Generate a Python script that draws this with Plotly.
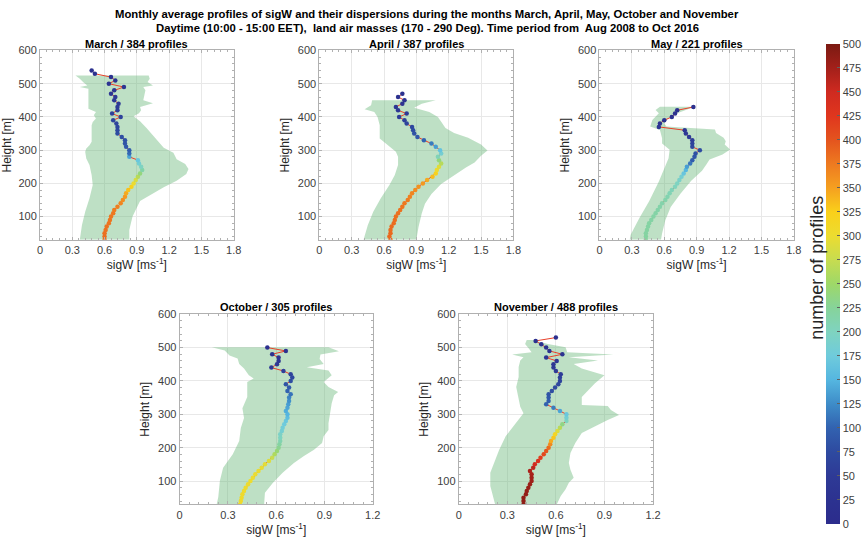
import plotly.graph_objects as go

# ---------------- DATA ----------------
# March
mar_h = list(range(30, 550, 10))
mar_sig = [0.60, 0.60, 0.60, 0.61, 0.62, 0.64, 0.65, 0.66, 0.68, 0.69, 0.72, 0.75, 0.77, 0.79, 0.80,
           0.82, 0.85, 0.87, 0.89, 0.91, 0.93, 0.95, 0.94, 0.92, 0.91, 0.83, 0.83, 0.83, 0.80, 0.79,
           0.79, 0.76, 0.72, 0.72, 0.72, 0.71, 0.68, 0.75, 0.67, 0.72, 0.72, 0.73, 0.69, 0.70, 0.66,
           0.69, 0.78, 0.64, 0.70, 0.66, 0.51, 0.48]
mar_n = [384, 383, 382, 381, 380, 379, 378, 377, 376, 374, 372, 368, 362, 355, 345,
         333, 320, 300, 285, 265, 240, 215, 200, 185, 170, 140, 105, 95, 90, 86,
         83, 80, 77, 74, 71, 68, 65, 62, 59, 56, 53, 50, 47, 44, 41,
         38, 35, 32, 29, 26, 23, 20]
mar_lo_h = [30, 75, 115, 155, 195, 225, 255, 275, 295, 305, 315, 325, 375, 385, 395, 405, 415, 425,
            445, 465, 485, 490, 495, 505, 515, 525]
mar_lo = [0.37, 0.39, 0.42, 0.46, 0.49, 0.48, 0.46, 0.43, 0.42, 0.43, 0.46, 0.48, 0.48, 0.49, 0.52,
          0.50, 0.52, 0.45, 0.45, 0.45, 0.45, 0.37, 0.44, 0.40, 0.37, 0.33]
mar_hi_h = [30, 60, 100, 147, 168, 188, 208, 228, 243, 258, 273, 292, 307, 337, 367, 387, 402, 411,
            420, 430, 441, 450, 465, 480, 490, 495, 505, 515, 525]
mar_hi = [0.83, 0.83, 0.86, 0.93, 1.04, 1.15, 1.27, 1.36, 1.38, 1.35, 1.27, 1.24, 1.15, 1.07, 0.99,
          0.93, 0.87, 0.92, 0.94, 0.93, 1.05, 0.96, 0.97, 0.98, 0.96, 1.05, 1.00, 1.02, 1.01]

# April
apr_h = list(range(30, 480, 10))
apr_sig = [0.66, 0.65, 0.66, 0.66, 0.67, 0.69, 0.70, 0.71, 0.73, 0.75, 0.77, 0.79, 0.82, 0.84, 0.86,
           0.89, 0.92, 0.96, 1.00, 1.05, 1.08, 1.09, 1.11, 1.13, 1.11, 1.10, 1.13, 1.12, 1.08, 1.04,
           0.97, 0.91, 0.88, 0.87, 0.86, 0.81, 0.79, 0.74, 0.81, 0.73, 0.71, 0.77, 0.79, 0.73, 0.77]
apr_n = [387, 386, 386, 385, 385, 384, 383, 382, 381, 380, 378, 376, 374, 371, 368,
         364, 360, 355, 345, 335, 320, 305, 290, 265, 240, 205, 185, 165, 135, 115,
         100, 90, 84, 78, 72, 66, 60, 54, 48, 42, 37, 32, 28, 24, 20]
apr_lo_h = [30, 75, 115, 155, 195, 225, 255, 280, 295, 315, 335, 375, 400, 415, 423, 435, 450]
apr_lo = [0.41, 0.45, 0.50, 0.57, 0.65, 0.70, 0.73, 0.73, 0.71, 0.64, 0.56, 0.56, 0.54, 0.51, 0.42,
          0.48, 0.49]
apr_hi_h = [30, 69, 109, 139, 168, 198, 223, 248, 263, 283, 299, 317, 337, 352, 367, 387, 400, 415,
            428, 440, 450]
apr_hi = [0.90, 0.92, 0.95, 0.98, 1.04, 1.13, 1.25, 1.36, 1.44, 1.50, 1.56, 1.50, 1.38, 1.25, 1.17,
          1.13, 1.10, 1.02, 0.88, 0.95, 1.08]

# May
may_h = list(range(30, 440, 10))
may_sig = [0.43, 0.43, 0.43, 0.44, 0.45, 0.46, 0.48, 0.50, 0.52, 0.54, 0.56, 0.58, 0.61, 0.63, 0.65,
           0.67, 0.70, 0.72, 0.74, 0.76, 0.78, 0.80, 0.81, 0.84, 0.86, 0.88, 0.89, 0.93, 0.86, 0.86,
           0.86, 0.83, 0.80, 0.79, 0.55, 0.56, 0.60, 0.67, 0.70, 0.72, 0.87]
may_n = [221, 221, 220, 220, 219, 219, 218, 218, 217, 216, 215, 214, 213, 211, 208,
         205, 202, 199, 192, 184, 168, 152, 136, 112, 95, 88, 82, 76, 70, 64,
         58, 52, 47, 42, 37, 32, 28, 24, 20, 17, 15]
may_lo_h = [30, 46, 96, 146, 206, 251, 276, 301, 320, 336, 361, 371, 391, 411, 421, 431]
may_lo = [0.28, 0.29, 0.37, 0.46, 0.55, 0.61, 0.64, 0.65, 0.58, 0.58, 0.56, 0.47, 0.49, 0.55, 0.52,
          0.56]
may_hi_h = [30, 49, 89, 129, 169, 208, 238, 257, 272, 287, 302, 317, 327, 337, 352, 362, 371, 381,
            391, 401, 411, 421, 431]
may_hi = [0.57, 0.58, 0.61, 0.66, 0.75, 0.85, 0.95, 0.99, 1.02, 1.14, 1.21, 1.16, 1.17, 1.15, 1.08,
          1.07, 0.62, 0.60, 0.62, 0.66, 0.72, 0.80, 0.88]

# October
oct_h = list(range(30, 510, 10))
oct_sig = [0.375, 0.38, 0.385, 0.39, 0.40, 0.41, 0.425, 0.44, 0.455, 0.47, 0.49, 0.51, 0.53, 0.555,
           0.575, 0.59, 0.605, 0.615, 0.62, 0.625, 0.625, 0.625, 0.635, 0.64, 0.65, 0.66, 0.67, 0.67,
           0.66, 0.67, 0.675, 0.68, 0.68, 0.69, 0.67, 0.68, 0.66, 0.69, 0.70, 0.69, 0.645, 0.57,
           0.605, 0.615, 0.615, 0.575, 0.66, 0.545]
oct_n = [305, 305, 304, 304, 303, 303, 302, 301, 300, 299, 298, 296, 294, 290, 275,
         260, 245, 230, 220, 210, 200, 195, 185, 180, 175, 170, 160, 150, 145, 140,
         135, 128, 120, 110, 100, 92, 85, 78, 71, 64, 57, 50, 44, 38, 32, 27, 23, 20]
oct_lo_h = [30, 52, 101, 140, 180, 220, 259, 289, 318, 352, 397, 407, 417, 437, 451, 467, 476, 491,
            501]
oct_lo = [0.23, 0.24, 0.25, 0.27, 0.33, 0.37, 0.38, 0.40, 0.39, 0.42, 0.42, 0.46, 0.43, 0.40, 0.37,
          0.36, 0.31, 0.28, 0.20]
oct_hi_h = [30, 65, 95, 125, 154, 174, 194, 214, 234, 253, 273, 303, 333, 357, 367, 382, 397, 417,
            431, 441, 451, 466, 479, 489, 501]
oct_hi = [0.525, 0.53, 0.58, 0.64, 0.71, 0.77, 0.835, 0.885, 0.895, 0.925, 0.925, 0.935, 0.945,
          0.96, 0.985, 0.925, 0.895, 0.945, 0.925, 0.79, 0.895, 0.87, 0.875, 0.99, 0.925]

# November
nov_h = list(range(30, 540, 10))
nov_sig = [0.40, 0.40, 0.40, 0.415, 0.42, 0.43, 0.44, 0.45, 0.45, 0.45, 0.44, 0.46, 0.47, 0.49,
           0.505, 0.525, 0.54, 0.555, 0.565, 0.57, 0.585, 0.595, 0.61, 0.625, 0.64, 0.665, 0.665,
           0.665, 0.625, 0.585, 0.54, 0.555, 0.555, 0.555, 0.575, 0.595, 0.615, 0.625, 0.625, 0.63,
           0.60, 0.585, 0.585, 0.605, 0.54, 0.64, 0.56, 0.54, 0.51, 0.475, 0.60]
nov_n = [488, 487, 486, 485, 484, 482, 480, 478, 476, 473, 470, 460, 445, 435, 420,
         410, 400, 385, 365, 345, 330, 315, 290, 265, 235, 200, 185, 170, 140, 115,
         100, 95, 90, 85, 80, 75, 70, 65, 60, 55, 50, 46, 42, 38, 34, 30, 26, 23, 20, 17, 15]
nov_lo_h = [30, 55, 85, 125, 154, 194, 234, 273, 303, 323, 352, 382, 412, 442, 461, 471, 479, 486,
            496, 511, 523]
nov_lo = [0.225, 0.21, 0.195, 0.195, 0.22, 0.25, 0.29, 0.35, 0.40, 0.38, 0.37, 0.355, 0.37, 0.37,
          0.38, 0.40, 0.33, 0.45, 0.435, 0.41, 0.42]
nov_hi_h = [30, 55, 75, 95, 110, 134, 154, 184, 214, 244, 263, 283, 298, 313, 325, 328, 352, 372,
            392, 417, 437, 451, 461, 471, 479, 486, 501, 511, 523]
nov_hi = [0.605, 0.63, 0.66, 0.68, 0.71, 0.69, 0.68, 0.69, 0.72, 0.76, 0.84, 0.92, 0.99, 0.94, 0.92,
          0.76, 0.76, 0.80, 0.84, 0.90, 0.76, 0.71, 0.86, 0.68, 0.955, 0.67, 0.66, 0.55, 0.46]

titles = ["March / 384 profiles", "April / 387 profiles", "May / 221 profiles",
          "October / 305 profiles", "November / 488 profiles"]
main_title = ["Monthly average profiles of sigW and their dispersions during the months March, April, May, October and November",
              "Daytime (10:00 - 15:00 EET),  land air masses (170 - 290 Deg). Time period from  Aug 2008 to Oct 2016"]
cbar_ticks = list(range(0, 525, 25))

# ---------------- FIGURE ----------------
W, H = 865, 538
panels = [
    (mar_h, mar_sig, mar_n, mar_lo_h, mar_lo, mar_hi_h, mar_hi, 1.8, (37.7, 235.0), (45.0, 236.5)),
    (apr_h, apr_sig, apr_n, apr_lo_h, apr_lo, apr_hi_h, apr_hi, 1.8, (322.3, 520.0), (45.0, 236.5)),
    (may_h, may_sig, may_n, may_lo_h, may_lo, may_hi_h, may_hi, 1.8, (607.7, 805.7), (45.0, 236.5)),
    (oct_h, oct_sig, oct_n, oct_lo_h, oct_lo, oct_hi_h, oct_hi, 1.2, (180.0, 376.7), (311.7, 504.0)),
    (nov_h, nov_sig, nov_n, nov_lo_h, nov_lo, nov_hi_h, nov_hi, 1.2, (464.3, 662.3), (311.7, 504.0)),
]

colorscale = [
    [0.00, "#2c2c8c"], [0.05, "#2c3290"], [0.10, "#2e3a96"], [0.15, "#2e4aa0"],
    [0.20, "#3262b0"], [0.25, "#3e8cc8"], [0.30, "#55b6e0"], [0.35, "#6fcbdc"],
    [0.40, "#7fd3c0"], [0.45, "#86d39a"], [0.50, "#9ed868"], [0.55, "#c7dc50"],
    [0.60, "#ecdc30"], [0.65, "#fad01a"], [0.70, "#f5a020"], [0.75, "#ee7a20"],
    [0.80, "#e4541e"], [0.85, "#e0361e"], [0.90, "#cf2a20"], [0.95, "#a3201a"],
    [1.00, "#7b1a12"],
]

fig = go.Figure()
layout_axes = {}
annotations = []
font_fam = "Arial, Liberation Sans, sans-serif"
for i, (h, sig, n, lo_h, lo, hi_h, hi, xmax, dx, dy) in enumerate(panels):
    sfx = "" if i == 0 else str(i + 1)
    xa, ya = "x" + sfx, "y" + sfx
    band_x = lo + hi[::-1]
    band_y = lo_h + hi_h[::-1]
    fig.add_trace(go.Scatter(x=band_x, y=band_y, mode="lines", fill="toself",
                             fillcolor="rgba(111,186,126,0.45)", line=dict(width=0),
                             hoverinfo="skip", showlegend=False, xaxis=xa, yaxis=ya))
    fig.add_trace(go.Scatter(x=sig, y=h, mode="lines+markers",
                             line=dict(color="#e8402a", width=1),
                             marker=dict(color=n, coloraxis="coloraxis", size=4.5, line=dict(width=0)),
                             showlegend=False, xaxis=xa, yaxis=ya))
    common = dict(showline=True, linecolor="#b0b0b0", linewidth=1, mirror="allticks",
                  ticks="inside", ticklen=3, tickcolor="#b0b0b0", showgrid=True,
                  gridcolor="#e8e8e8", zeroline=False,
                  tickfont=dict(family=font_fam, size=11, color="#404040"))
    layout_axes["xaxis" + sfx] = dict(common, domain=[dx[0] / W, dx[1] / W], anchor=ya,
                                      range=[0, xmax], tick0=0, dtick=0.3,
                                      minor=dict(ticks="inside", ticklen=2, tickcolor="#b0b0b0",
                                                 dtick=0.06, showgrid=False),
                                      title=dict(text="sigW [ms<sup>-1</sup>]", standoff=3,
                                                 font=dict(family=font_fam, size=12, color="#262626")))
    layout_axes["yaxis" + sfx] = dict(common, domain=[1 - dy[1] / H, 1 - dy[0] / H], anchor=xa,
                                      range=[30, 600], tick0=0, dtick=100,
                                      minor=dict(ticks="inside", ticklen=2, tickcolor="#b0b0b0",
                                                 dtick=20, showgrid=False),
                                      title=dict(text="Height [m]", standoff=5,
                                                 font=dict(family=font_fam, size=12, color="#262626")))
    annotations.append(dict(text="<b>" + titles[i] + "</b>", x=(dx[0] + dx[1]) / 2 / W,
                            y=1 - 38 / H if i < 3 else 1 - 304 / H, xref="paper", yref="paper",
                            xanchor="center", yanchor="middle", showarrow=False,
                            font=dict(family=font_fam, size=11, color="#000000")))

for k, line in enumerate(main_title):
    annotations.append(dict(text="<b>" + line + "</b>", x=432 / W, y=1 - (8 + 14 * k) / H,
                            xref="paper", yref="paper", xanchor="center", yanchor="middle",
                            showarrow=False, font=dict(family=font_fam, size=11.3, color="#000000")))
annotations.append(dict(text="number of profiles", textangle=-90, x=829 / W, y=1 - 265 / H,
                        xref="paper", yref="paper", xanchor="center", yanchor="middle",
                        showarrow=False, font=dict(family=font_fam, size=18, color="#262626")))

fig.update_layout(
    width=W, height=H, margin=dict(l=0, r=0, t=0, b=0),
    paper_bgcolor="white", plot_bgcolor="white",
    annotations=annotations,
    coloraxis=dict(cmin=0, cmax=500, colorscale=colorscale,
                   colorbar=dict(x=839 / W, xanchor="left", y=1 - 281 / H, yanchor="middle",
                                 len=480, lenmode="pixels", thickness=14, thicknessmode="pixels",
                                 tickvals=cbar_ticks, ticks="inside", ticklen=3, tickcolor="#606060",
                                 outlinewidth=0, xpad=0, ypad=0,
                                 tickfont=dict(family=font_fam, size=11, color="#404040"))),
    **layout_axes,
)
fig.write_html("out.html")
